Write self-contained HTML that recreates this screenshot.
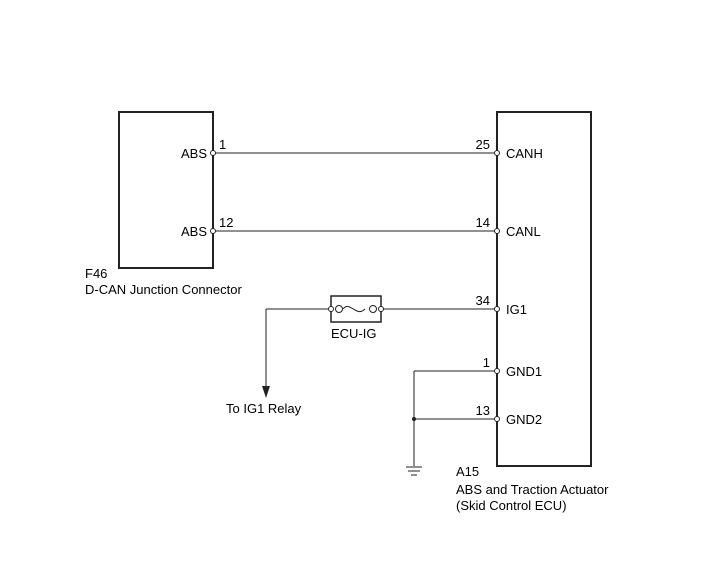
<!DOCTYPE html>
<html><head><style>body{margin:0;background:#fff}</style></head><body>
<svg width="713" height="581" xmlns="http://www.w3.org/2000/svg" font-family="Liberation Sans, Arial, sans-serif" font-size="13" fill="#000">
<g stroke="#222" fill="none">
<rect x="119" y="112" width="94" height="156" stroke-width="2"/>
<rect x="497" y="112" width="94" height="354" stroke-width="2"/>
<line x1="213" y1="153" x2="497" y2="153" stroke-width="1"/>
<line x1="213" y1="231" x2="497" y2="231" stroke-width="1"/>
<line x1="381" y1="309" x2="497" y2="309" stroke-width="1"/>
<line x1="266" y1="309" x2="330" y2="309" stroke-width="1"/>
<line x1="266" y1="309" x2="266" y2="388" stroke-width="1"/>
<rect x="331" y="296" width="50" height="26" stroke-width="1.5"/>
<path d="M343 309 C350 300 356 318 365 309" stroke-width="1"/>
<line x1="414" y1="371" x2="497" y2="371" stroke-width="1"/>
<line x1="414" y1="419" x2="497" y2="419" stroke-width="1"/>
<line x1="414" y1="371" x2="414" y2="466" stroke-width="1"/>
<line x1="406" y1="467" x2="422" y2="467" stroke-width="1"/>
<line x1="408" y1="471" x2="420" y2="471" stroke-width="1"/>
<line x1="411" y1="475" x2="417" y2="475" stroke-width="1"/>
</g>
<polygon points="262,386 270,386 266,398" fill="#222"/>
<circle cx="414" cy="419" r="2" fill="#222"/>
<g fill="#fff" stroke="#222" stroke-width="1">
<circle cx="213" cy="153" r="2.5"/><circle cx="213" cy="231" r="2.5"/>
<circle cx="497" cy="153" r="2.5"/><circle cx="497" cy="231" r="2.5"/>
<circle cx="497" cy="309" r="2.5"/><circle cx="497" cy="371" r="2.5"/><circle cx="497" cy="419" r="2.5"/>
<circle cx="331" cy="309" r="2.5"/><circle cx="339" cy="309" r="3.5"/>
<circle cx="373" cy="309" r="3.5"/><circle cx="381" cy="309" r="2.5"/>
</g>
<text x="207" y="158" text-anchor="end">ABS</text>
<text x="207" y="236" text-anchor="end">ABS</text>
<text x="219" y="149">1</text>
<text x="219" y="227">12</text>
<text x="490" y="149" text-anchor="end">25</text>
<text x="490" y="227" text-anchor="end">14</text>
<text x="490" y="305" text-anchor="end">34</text>
<text x="490" y="367" text-anchor="end">1</text>
<text x="490" y="415" text-anchor="end">13</text>
<text x="506" y="158">CANH</text>
<text x="506" y="236">CANL</text>
<text x="506" y="314">IG1</text>
<text x="506" y="376">GND1</text>
<text x="506" y="424">GND2</text>
<text x="331" y="338">ECU-IG</text>
<text x="226" y="413">To IG1 Relay</text>
<text x="85" y="278">F46</text>
<text x="85" y="294">D-CAN Junction Connector</text>
<text x="456" y="476">A15</text>
<text x="456" y="494">ABS and Traction Actuator</text>
<text x="456" y="510">(Skid Control ECU)</text>
</svg>
</body></html>
